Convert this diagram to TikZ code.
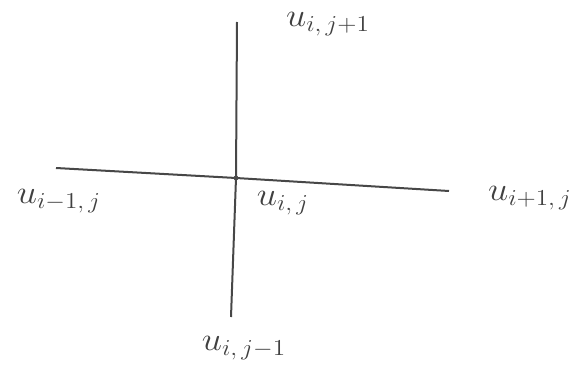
\documentclass[tikz,border=0pt]{standalone}
\newcommand{\biglab}[1]{\scalebox{2.1}[1.9]{$#1$}}
\begin{document}
\begin{tikzpicture}[x=1pt,y=-1pt,
  stroke/.style={line width=2pt,draw=black!72},
  lab/.style={text=black!75,font=\LARGE,inner sep=0pt}]
\useasboundingbox (0,0) rectangle (587,369);
\coordinate (c) at (236,178);
\coordinate (t) at (237,22);
\coordinate (b) at (231,317);
\coordinate (l) at (56,168);
\coordinate (r) at (449,191);
\draw[stroke] (t) -- (c) -- (b);
\draw[stroke] (l) -- (c) -- (r);
\fill[black!70] (c) circle (2.4pt);
\node[lab] (n) at (328,24) {\biglab{u_{i,\,j+1}}};
\node[lab] (w) at (59,201) {\biglab{u_{i-1,\,j}}};
\node[lab] (o) at (283,203) {\biglab{u_{i,\,j}}};
\node[lab] (e) at (530,198) {\biglab{u_{i+1,\,j}}};
\node[lab] (s) at (244,348) {\biglab{u_{i,\,j-1}}};
\end{tikzpicture}
\end{document}
